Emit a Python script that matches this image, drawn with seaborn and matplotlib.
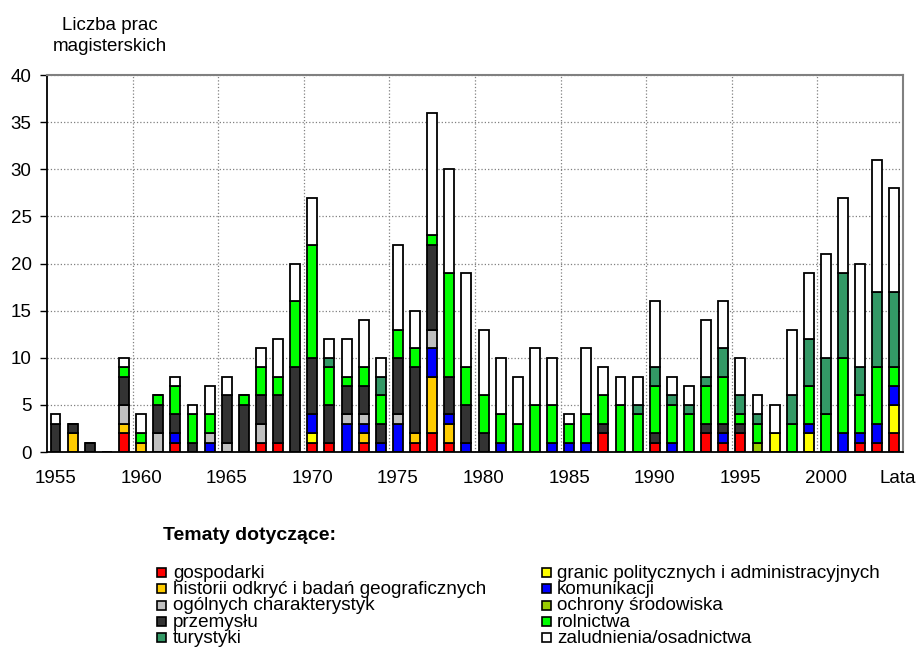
import pandas as pd
import matplotlib
matplotlib.use("Agg")
import matplotlib.pyplot as plt
from matplotlib.patches import Rectangle
import seaborn as sns

sns.set_style('white')
plt.rcParams['font.family'] = ['Liberation Sans', 'DejaVu Sans']
plt.rcParams['text.color'] = 'black'
plt.rcParams['xtick.color'] = 'black'
plt.rcParams['ytick.color'] = 'black'

years = list(range(1955, 2005))

# liczba prac w kolejnych latach 1955-2004, wg tematu
gospodarki = [0, 0, 0, 0, 2, 0, 0, 1, 0, 0,
              0, 0, 1, 1, 0, 1, 1, 0, 1, 0,
              0, 1, 2, 1, 0, 0, 0, 0, 0, 0,
              0, 0, 2, 0, 0, 1, 0, 0, 2, 1,
              2, 0, 0, 0, 0, 0, 0, 1, 1, 2]
granic = [0, 0, 0, 0, 0, 0, 0, 0, 0, 0,
          0, 0, 0, 0, 0, 1, 0, 0, 0, 0,
          0, 0, 0, 0, 0, 0, 0, 0, 0, 0,
          0, 0, 0, 0, 0, 0, 0, 0, 0, 0,
          0, 0, 2, 0, 2, 0, 0, 0, 0, 3]
historii = [0, 2, 0, 0, 1, 1, 0, 0, 0, 0,
            0, 0, 0, 0, 0, 0, 0, 0, 1, 0,
            0, 1, 6, 2, 0, 0, 0, 0, 0, 0,
            0, 0, 0, 0, 0, 0, 0, 0, 0, 0,
            0, 0, 0, 0, 0, 0, 0, 0, 0, 0]
komunikacji = [0, 0, 0, 0, 0, 0, 0, 1, 0, 1,
               0, 0, 0, 0, 0, 2, 0, 3, 1, 1,
               3, 0, 3, 1, 1, 0, 1, 0, 0, 1,
               1, 1, 0, 0, 0, 0, 1, 0, 0, 1,
               0, 0, 0, 0, 1, 0, 2, 1, 2, 2]
ogolnych = [0, 0, 0, 0, 2, 0, 2, 0, 0, 1,
            1, 0, 2, 0, 0, 0, 0, 1, 1, 0,
            1, 0, 2, 0, 0, 0, 0, 0, 0, 0,
            0, 0, 0, 0, 0, 0, 0, 0, 0, 0,
            0, 0, 0, 0, 0, 0, 0, 0, 0, 0]
ochrony = [0, 0, 0, 0, 0, 0, 0, 0, 0, 0,
           0, 0, 0, 0, 0, 0, 0, 0, 0, 0,
           0, 0, 0, 0, 0, 0, 0, 0, 0, 0,
           0, 0, 0, 0, 0, 0, 0, 0, 0, 0,
           0, 1, 0, 0, 0, 0, 0, 0, 0, 0]
przemyslu = [3, 1, 1, 0, 3, 0, 3, 2, 1, 0,
             5, 5, 3, 5, 9, 6, 4, 3, 3, 2,
             6, 7, 9, 4, 4, 2, 0, 0, 0, 0,
             0, 0, 1, 0, 0, 1, 0, 0, 1, 1,
             1, 0, 0, 0, 0, 0, 0, 0, 0, 0]
rolnictwa = [0, 0, 0, 0, 1, 1, 1, 3, 3, 2,
             0, 1, 3, 2, 7, 12, 4, 1, 2, 3,
             3, 2, 1, 11, 4, 4, 3, 3, 5, 4,
             2, 3, 3, 5, 4, 5, 4, 4, 4, 5,
             1, 2, 0, 3, 4, 4, 8, 4, 6, 2]
turystyki = [0, 0, 0, 0, 0, 0, 0, 0, 0, 0,
             0, 0, 0, 0, 0, 0, 1, 0, 0, 2,
             0, 0, 0, 0, 0, 0, 0, 0, 0, 0,
             0, 0, 0, 0, 1, 2, 1, 1, 1, 3,
             2, 1, 0, 3, 5, 6, 9, 3, 8, 8]
zaludnienia = [1, 0, 0, 0, 1, 2, 0, 1, 1, 3,
               2, 0, 2, 4, 4, 5, 2, 4, 5, 2,
               9, 4, 13, 11, 10, 7, 6, 5, 6, 5,
               1, 7, 3, 3, 3, 7, 2, 2, 6, 5,
               4, 2, 3, 7, 7, 11, 8, 11, 14, 11]

topics = ['gospodarki', 'granic politycznych i administracyjnych',
          'historii odkryć i badań geograficznych', 'komunikacji',
          'ogólnych charakterystyk', 'ochrony środowiska',
          'przemysłu', 'rolnictwa', 'turystyki', 'zaludnienia/osadnictwa']
series = [gospodarki, granic, historii, komunikacji, ogolnych,
          ochrony, przemyslu, rolnictwa, turystyki, zaludnienia]
colors = ['#FF0000', '#FFFF00', '#FFCC00', '#0000FF', '#C0C0C0',
          '#99CC00', '#333333', '#00FF00', '#339966', '#FFFFFF']

xtick_years = [1955, 1960, 1965, 1970, 1975, 1980, 1985, 1990, 1995, 2000]

rows = []
for name, vals in zip(topics, series):
    for y, v in zip(years, vals):
        rows.append({'rok': y, 'temat': name, 'liczba': v})
df = pd.DataFrame(rows)

fig = plt.figure(figsize=(9.19, 6.52), dpi=100)
ax = fig.add_axes([0.0511, 0.3067, 0.9315, 0.5782])

# seaborn stacks the first hue level on top, so pass the order reversed
sns.histplot(data=df, x='rok', hue='temat', weights='liczba', discrete=True,
             multiple='stack', shrink=0.58, hue_order=topics[::-1],
             palette=dict(zip(topics, colors)), alpha=1,
             edgecolor='black', linewidth=1.3, legend=False, ax=ax)

ax.set_xlim(years[0] - 0.5, years[-1] + 0.5)
ax.set_ylim(0, 40)
ax.set_yticks(range(0, 41, 5))
ax.set_xlabel('')
ax.set_ylabel('')

# labels under the bars plus the axis name "Lata" at the far right
ax.set_xticks(xtick_years + [years[-1] + 0.2])
ax.set_xticklabels([str(y) for y in xtick_years] + ['Lata'])
ax.set_xticks([y + 4.5 for y in xtick_years[:-1]], minor=True)
ax.tick_params(axis='x', which='major', length=0, pad=13, labelsize=13.5,
               labelcolor='black')
ax.tick_params(axis='x', which='minor', direction='in', length=4,
               width=1, color='black')
ax.tick_params(axis='y', direction='out', length=5, width=1,
               color='black', pad=6, labelsize=13.5, left=True,
               labelcolor='black')

ax.yaxis.grid(True, linestyle=':', color='#808080', linewidth=0.9)
ax.xaxis.grid(True, which='minor', linestyle=':', color='#808080', linewidth=0.9)
ax.xaxis.grid(False, which='major')
ax.set_axisbelow(True)

for side in ['top', 'right']:
    ax.spines[side].set_color('#808080')
    ax.spines[side].set_linewidth(1.5)
for side in ['left', 'bottom']:
    ax.spines[side].set_color('black')
    ax.spines[side].set_linewidth(1.3)

W, H = 919, 652
fig.text(110 / W, 1 - 36 / H, 'Liczba prac\nmagisterskich', ha='center',
         va='center', fontsize=13.5, linespacing=1.25)

# legend laid out as in the original: two columns, filled row by row
fig.text(163 / W, 1 - 540 / H, 'Tematy dotyczące:', fontsize=14,
         fontweight='bold', va='baseline')
for i, (name, c) in enumerate(zip(topics, colors)):
    row, col = i // 2, i % 2
    base = 578 + 16.25 * row
    mx = [157, 542][col]
    tx = [173, 557][col]
    fig.patches.append(Rectangle((mx / W, 1 - (base - 1) / H), 9 / W, 9 / H,
                                 transform=fig.transFigure, facecolor=c,
                                 edgecolor='black', linewidth=1.2))
    fig.text(tx / W, 1 - base / H, name, fontsize=13.6, va='baseline')

fig.savefig('out.png', dpi=100)
